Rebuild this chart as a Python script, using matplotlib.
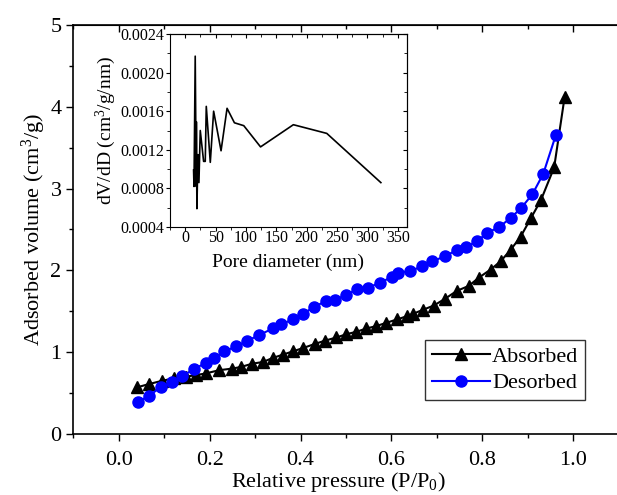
import numpy as np
import matplotlib
matplotlib.use("Agg")
import matplotlib.pyplot as plt
from matplotlib.ticker import MultipleLocator, FormatStrFormatter, NullFormatter

plt.rcParams['font.family'] = ['Liberation Serif', 'DejaVu Serif']
plt.rcParams['mathtext.fontset'] = 'custom'
plt.rcParams['mathtext.rm'] = 'Liberation Serif'
plt.rcParams['mathtext.it'] = 'Liberation Serif:italic'

# isotherm, absorbed branch
p_abs = [0.040, 0.066, 0.095, 0.121, 0.147, 0.170, 0.191, 0.221, 0.250, 0.269,
         0.294, 0.317, 0.339, 0.361, 0.383, 0.405, 0.431, 0.453, 0.479, 0.501,
         0.523, 0.545, 0.567, 0.589, 0.612, 0.634, 0.648, 0.670, 0.693, 0.717,
         0.744, 0.770, 0.792, 0.818, 0.840, 0.862, 0.884, 0.907, 0.929, 0.958, 0.981]
v_abs = [0.57, 0.61, 0.65, 0.68, 0.70, 0.72, 0.74, 0.78, 0.80, 0.82,
         0.86, 0.88, 0.93, 0.97, 1.01, 1.05, 1.10, 1.14, 1.18, 1.22,
         1.25, 1.29, 1.32, 1.36, 1.40, 1.44, 1.47, 1.52, 1.57, 1.65,
         1.75, 1.81, 1.91, 2.01, 2.11, 2.25, 2.41, 2.64, 2.86, 3.26, 4.12]

# desorbed branch
p_des = [0.042, 0.067, 0.092, 0.117, 0.140, 0.165, 0.191, 0.210, 0.232, 0.258,
         0.283, 0.309, 0.339, 0.357, 0.383, 0.405, 0.429, 0.457, 0.475, 0.501,
         0.524, 0.549, 0.575, 0.601, 0.615, 0.641, 0.667, 0.689, 0.717, 0.744,
         0.763, 0.789, 0.811, 0.837, 0.862, 0.885, 0.910, 0.934, 0.962]
v_des = [0.39, 0.47, 0.57, 0.63, 0.71, 0.79, 0.87, 0.93, 1.01, 1.07,
         1.14, 1.21, 1.29, 1.34, 1.40, 1.47, 1.55, 1.63, 1.64, 1.70,
         1.77, 1.79, 1.85, 1.92, 1.97, 1.99, 2.05, 2.11, 2.17, 2.25,
         2.28, 2.36, 2.46, 2.53, 2.64, 2.76, 2.93, 3.18, 3.66]

# pore size distribution (inset)
pore_d = [13.8, 14.5, 16.5, 18.2, 18.4, 19.3, 20.9, 22.6, 24.8, 30.3,
          33.0, 34.7, 41.3, 46.8, 59.0, 68.9, 81.0, 96.4, 124.0, 178.0,
          233.0, 322.0]
dvdd = [0.00099, 0.00082, 0.00217, 0.00082, 0.00149, 0.00059, 0.00115, 0.00086, 0.00140, 0.00108,
        0.00108, 0.00165, 0.00107, 0.00160, 0.00119, 0.00163, 0.00148, 0.00145, 0.00123, 0.00146,
        0.00137, 0.00086]

fig = plt.figure(figsize=(6.17, 4.95), dpi=100)
ax = fig.add_axes([73.3/617, 1-434/495, (618.7-73.3)/617, (434-25)/495])

ax.plot(p_abs, v_abs, '-^', color='black', lw=1.5, ms=8, label='Absorbed')
ax.plot(p_des, v_des, '-o', color='blue', mec='blue', lw=1.5, ms=8, label='Desorbed')

ax.set_xlim(-0.1, 1.1)
ax.set_ylim(0, 5)
ax.xaxis.set_major_locator(MultipleLocator(0.2))
ax.xaxis.set_minor_locator(MultipleLocator(0.1))
ax.yaxis.set_major_locator(MultipleLocator(1))
ax.yaxis.set_minor_locator(MultipleLocator(0.5))
ax.xaxis.set_major_formatter(FormatStrFormatter('%.1f'))
ax.tick_params(which='both', direction='out', labelsize=16, width=1)
ax.tick_params(which='major', length=5)
ax.tick_params(which='minor', length=3)
ax.tick_params(axis='x', which='major', pad=7)
ax.spines['right'].set_visible(False)
for s in ax.spines.values():
    s.set_linewidth(1.2)
ax.set_xlabel('Relative pressure (P/P$_0$)', fontsize=16)
ax.xaxis.set_label_coords(0.486, -0.088)
ax.set_ylabel('Adsorbed volume (cm$^3$/g)', fontsize=16, labelpad=2)

# inward ticks on the top edge
top = ax.secondary_xaxis('top')
top.xaxis.set_major_locator(MultipleLocator(0.2))
top.xaxis.set_minor_locator(MultipleLocator(0.1))
top.xaxis.set_major_formatter(NullFormatter())
top.tick_params(which='both', direction='in', width=1)
top.tick_params(which='major', length=5)
top.tick_params(which='minor', length=3)

leg = ax.legend(loc='lower right', fontsize=16,
                frameon=True, fancybox=False, edgecolor='black', handlelength=2.6,
                handletextpad=0.1, borderpad=0.3, labelspacing=0.25, borderaxespad=0,
                bbox_to_anchor=(585/617, 1-400/495), bbox_transform=fig.transFigure)
leg.get_frame().set_linewidth(1.0)

# inset
ins = fig.add_axes([170/617, 1-227/495, (407-170)/617, (227-34)/495])
ins.plot(pore_d, dvdd, color='black', lw=1.2)
ins.set_xlim(-25, 365)
ins.set_ylim(0.0004, 0.0024)
ins.xaxis.set_major_locator(MultipleLocator(50))
ins.xaxis.set_minor_locator(MultipleLocator(25))
ins.yaxis.set_major_locator(MultipleLocator(0.0004))
ins.yaxis.set_minor_locator(MultipleLocator(0.0002))
ins.yaxis.set_major_formatter(FormatStrFormatter('%.4f'))
ins.tick_params(which='both', direction='out', labelsize=11.5, pad=1)
ins.tick_params(axis='x', which='both', pad=-0.5)
ins.tick_params(which='major', length=3)
ins.tick_params(which='minor', length=2)
ins.set_xlabel('Pore diameter (nm)', fontsize=14, labelpad=5)
ins.set_ylabel('dV/dD (cm$^3$/g/nm)', fontsize=14, labelpad=2)

itop = ins.secondary_xaxis('top')
itop.xaxis.set_major_locator(MultipleLocator(50))
itop.xaxis.set_minor_locator(MultipleLocator(25))
itop.xaxis.set_major_formatter(NullFormatter())
iright = ins.secondary_yaxis('right')
iright.yaxis.set_major_locator(MultipleLocator(0.0004))
iright.yaxis.set_minor_locator(MultipleLocator(0.0002))
iright.yaxis.set_major_formatter(NullFormatter())
for a in (itop, iright):
    a.tick_params(which='both', direction='in')
    a.tick_params(which='major', length=3)
    a.tick_params(which='minor', length=2)

fig.savefig('out.png', dpi=100)
